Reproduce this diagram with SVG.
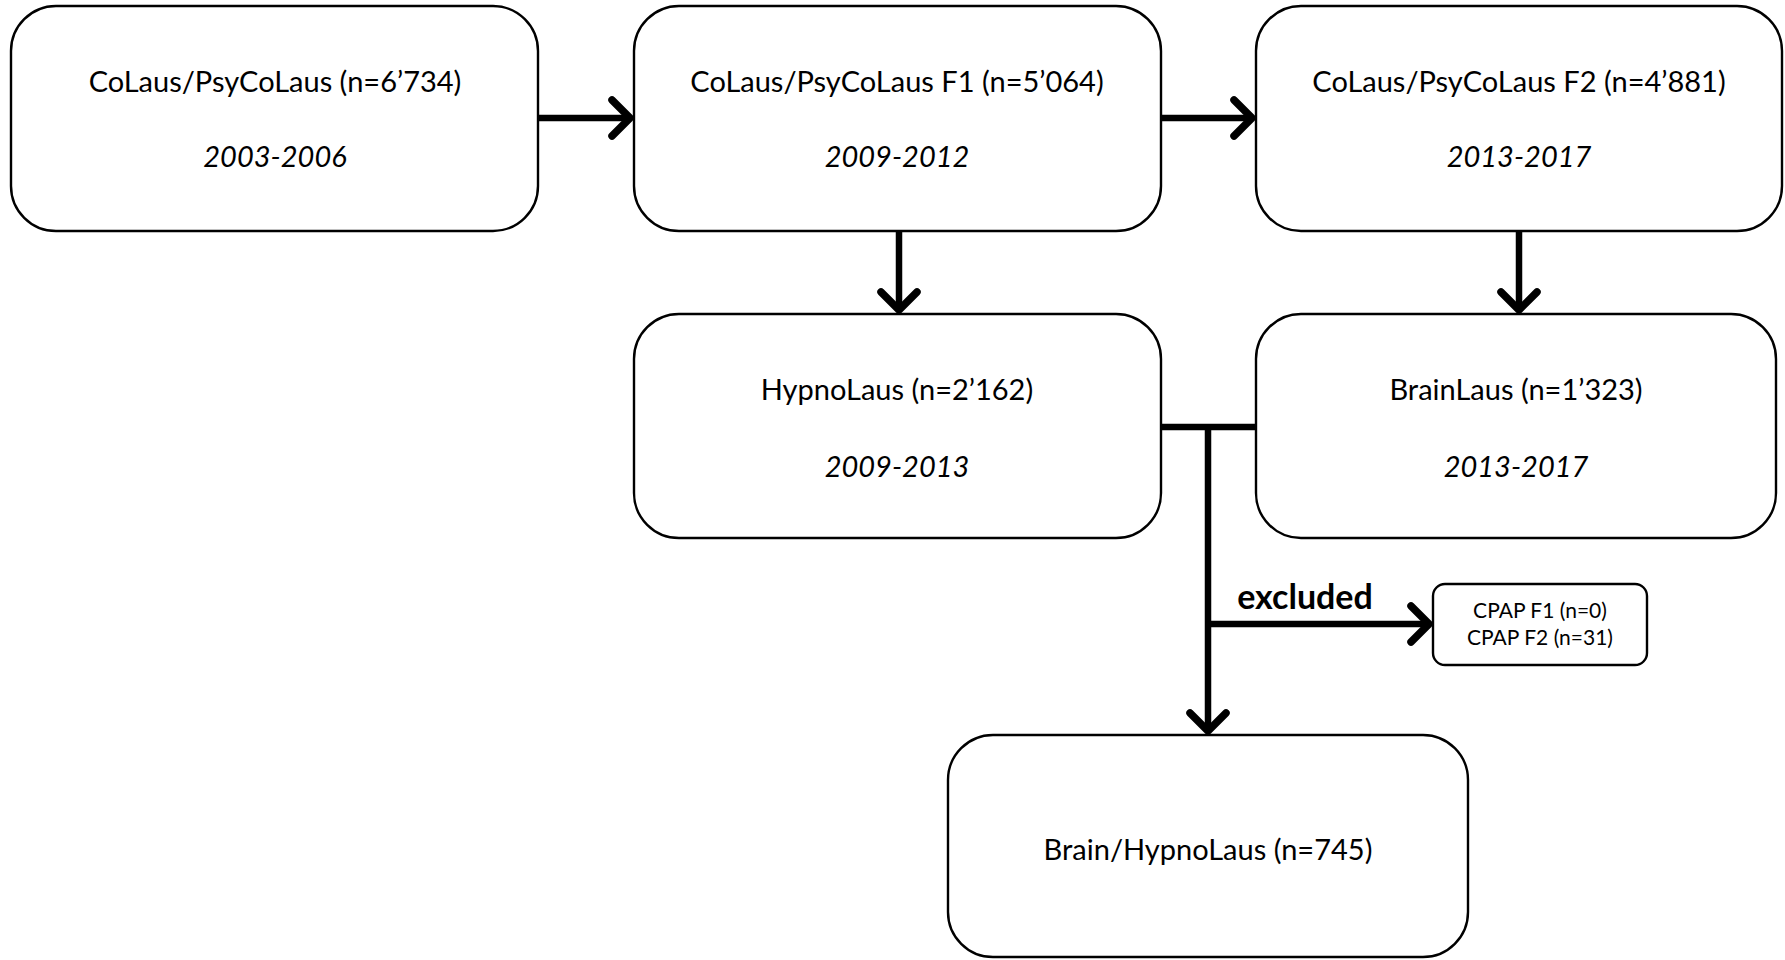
<svg xmlns="http://www.w3.org/2000/svg" width="1785" height="960" viewBox="0 0 1785 960">
<defs>
<style>
.box{fill:#fff;stroke:#000;stroke-width:2.4}
.t{font-family:Lato,"Open Sans","Noto Sans",sans-serif;font-size:29px;fill:#000;text-anchor:middle}
.d{font-style:italic}
.s{font-size:21px}
.b{font-weight:bold;font-size:34px}
.c{stroke:#000;stroke-width:6.5;fill:none}
</style>
<marker id="ah" viewBox="-24 -24 30 48" refX="0" refY="0" markerWidth="30" markerHeight="48" markerUnits="userSpaceOnUse" orient="auto">
<path d="M-18,-18 L0,0 L-18,18" fill="none" stroke="#000" stroke-width="7.5" stroke-linecap="round" stroke-linejoin="round"/>
</marker>
</defs>
<rect width="1785" height="960" fill="#fff"/>
<g id="connectors">
<path class="c" d="M538 118 H630" marker-end="url(#ah)"/>
<path class="c" d="M1161 118 H1252" marker-end="url(#ah)"/>
<path class="c" d="M899 231 V310" marker-end="url(#ah)"/>
<path class="c" d="M1519 231 V310" marker-end="url(#ah)"/>
<path class="c" d="M1161 427 H1256"/>
<path class="c" d="M1208 427 V731" marker-end="url(#ah)"/>
<path class="c" d="M1208 624 H1429" marker-end="url(#ah)"/>
<text class="t b" x="1305" y="609">excluded</text>
</g>
<g id="n1">
<rect class="box" x="11" y="6" width="527" height="225" rx="45"/>
<text class="t" x="275" y="92">CoLaus/PsyCoLaus (n=6’734)</text>
<text class="t d" x="275" y="167">2003-2006</text>
</g>
<g id="n2">
<rect class="box" x="634" y="6" width="527" height="225" rx="45"/>
<text class="t" x="897" y="92">CoLaus/PsyCoLaus F1 (n=5’064)</text>
<text class="t d" x="897" y="167">2009-2012</text>
</g>
<g id="n3">
<rect class="box" x="1256" y="6" width="526" height="225" rx="45"/>
<text class="t" x="1519" y="92">CoLaus/PsyCoLaus F2 (n=4’881)</text>
<text class="t d" x="1519" y="167">2013-2017</text>
</g>
<g id="n4">
<rect class="box" x="634" y="314" width="527" height="224" rx="45"/>
<text class="t" x="897" y="400">HypnoLaus (n=2’162)</text>
<text class="t d" x="897" y="477">2009-2013</text>
</g>
<g id="n5">
<rect class="box" x="1256" y="314" width="520" height="224" rx="45"/>
<text class="t" x="1516" y="400">BrainLaus (n=1’323)</text>
<text class="t d" x="1516" y="477">2013-2017</text>
</g>
<g id="n6">
<rect class="box" x="1433" y="584" width="214" height="81" rx="12"/>
<text class="t s" x="1540" y="618">CPAP F1 (n=0)</text>
<text class="t s" x="1540" y="645">CPAP F2 (n=31)</text>
</g>
<g id="n7">
<rect class="box" x="948" y="735" width="520" height="222" rx="45"/>
<text class="t" x="1208" y="860">Brain/HypnoLaus (n=745)</text>
</g>
</svg>
